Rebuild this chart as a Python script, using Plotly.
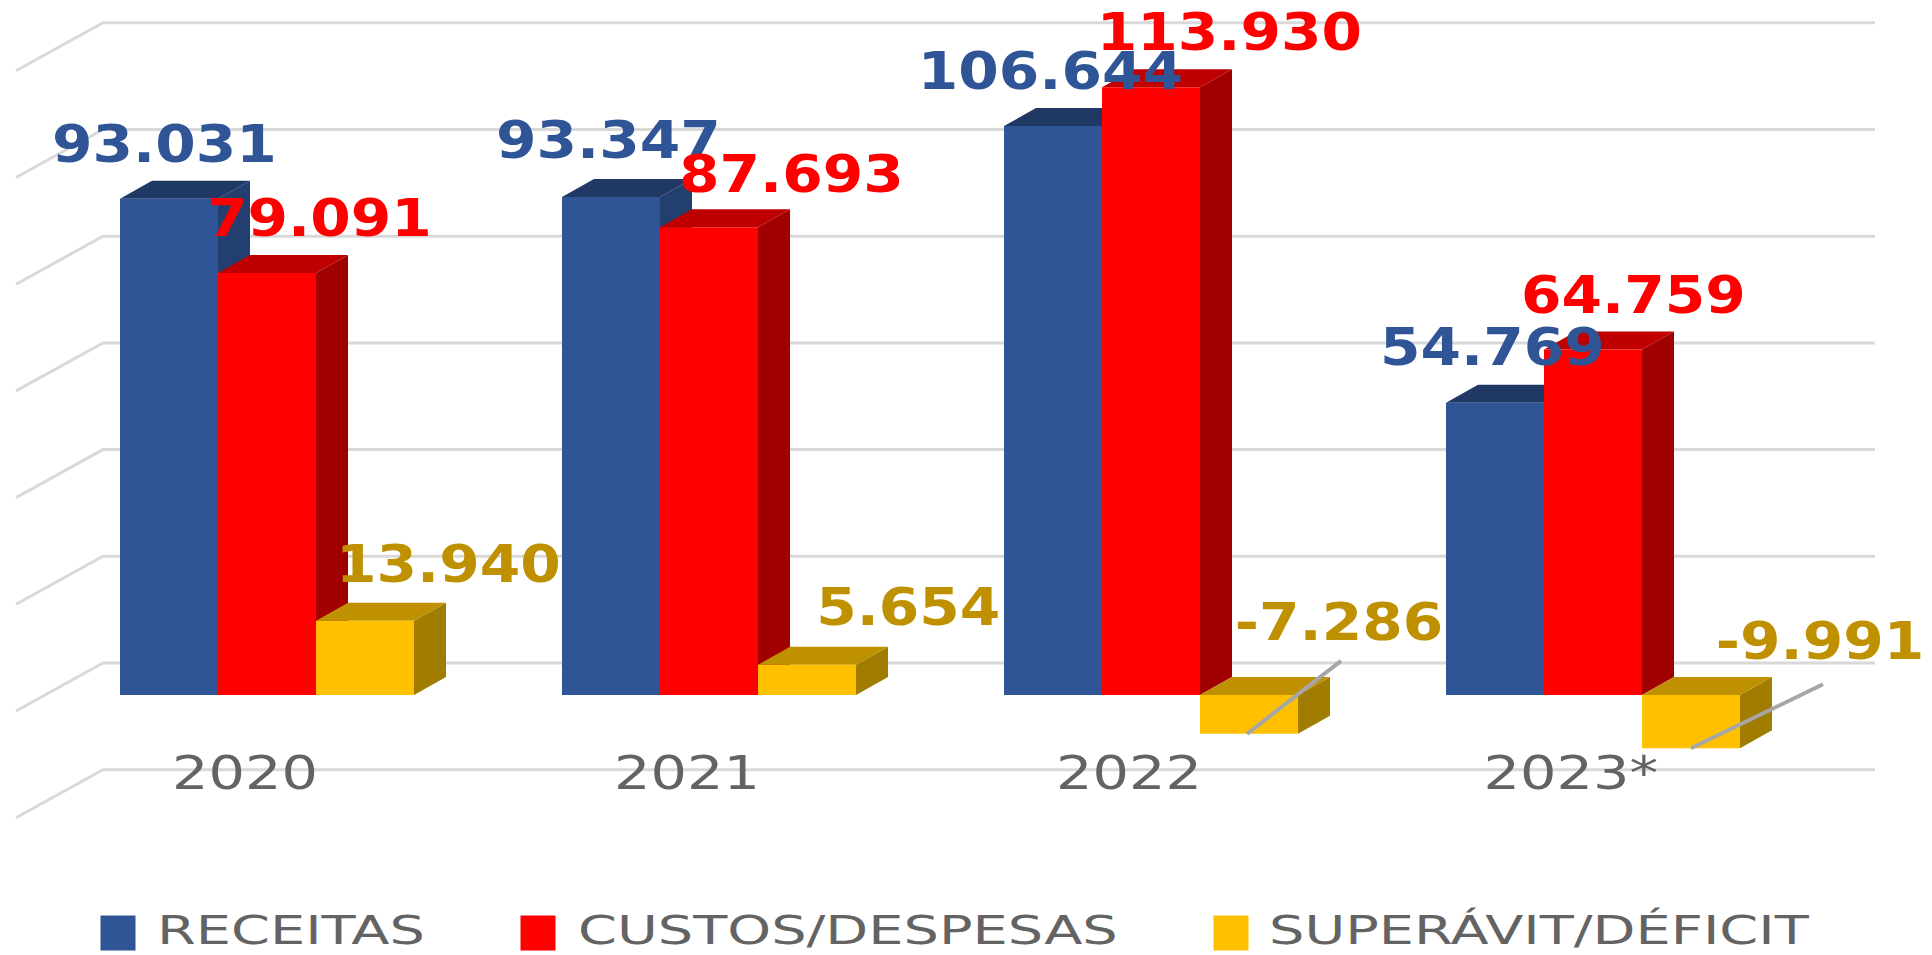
import plotly.graph_objects as go

categories = ["2020", "2021", "2022", "2023*"]
receitas = [93031, 93347, 106644, 54769]
custos = [79091, 87693, 113930, 64759]
saldo = [13940, 5654, -7286, -9991]
grid_values = [-20000, 0, 20000, 40000, 60000, 80000, 100000, 120000]

W, H = 1932, 955
PX_PER_CAT = 442.0
PX_PER_VAL = 0.005335
X0_PX, Y0_PX = 267.0, 695.0


def xd(px):
    return px / PX_PER_CAT


def yd(px):
    return px / PX_PER_VAL


BAR_W = xd(98)
DX, DY = xd(32), yd(18)
WALL_DY = yd(32)
FLOOR_DX, FLOOR_DY = xd(87), yd(48)
WALL_LEFT = (103 - X0_PX) / PX_PER_CAT
WALL_RIGHT = (1875 - X0_PX) / PX_PER_CAT

series = [
    dict(name="RECEITAS", vals=receitas, front="#2F5597", top="#203864", side="#223F70", text="#2F5597", k=-1,
         off=[(-4, -44), (-2, -46), (-2, -45), (-2, -45)]),
    dict(name="CUSTOS/DESPESAS", vals=custos, front="#FF0000", top="#BF0000", side="#A00000", text="#FF0000", k=0,
         off=[(43, -45), (67, -43), (64, -45), (33, -44)]),
    dict(name="SUPERÁVIT/DÉFICIT", vals=saldo, front="#FFC000", top="#BF9000", side="#A07C00", text="#BF9000", k=1,
         off=[(68, -46), (82, -47), (73, -59), (105, -44)]),
]

fig = go.Figure()

gx, gy = [], []
for v in grid_values:
    base = v + WALL_DY
    gx += [WALL_LEFT - FLOOR_DX, WALL_LEFT, WALL_RIGHT, None]
    gy += [base - FLOOR_DY, base, base, None]
fig.add_trace(go.Scatter(x=gx, y=gy, mode="lines", line=dict(color="#D9D9D9", width=3),
                         hoverinfo="skip", showlegend=False, zorder=0))

z = 1
annotations = []
for s in series:
    tx, ty, sx, sy = [], [], [], []
    centers = []
    for i, v in enumerate(s["vals"]):
        c = i + s["k"] * BAR_W
        centers.append(c)
        x0, x1 = c - BAR_W / 2, c + BAR_W / 2
        hi, lo = max(v, 0), min(v, 0)
        tx += [x0, x0 + DX, x1 + DX, x1, x0, None]
        ty += [hi, hi + DY, hi + DY, hi, hi, None]
        sx += [x1, x1 + DX, x1 + DX, x1, x1, None]
        sy += [hi, hi + DY, lo + DY, lo, hi, None]
        annotations.append(dict(
            x=c, y=hi, xref="x", yref="y", text=f"{v:,}".replace(",", "."), showarrow=False,
            xshift=s["off"][i][0] * 1.232, yshift=-s["off"][i][1] * 1.232,
            font=dict(family="DejaVu Sans", size=52, color=s["text"], weight="bold"),
            xanchor="center", yanchor="middle"))
    fig.add_trace(go.Scatter(x=sx, y=sy, mode="lines", fill="toself", fillcolor=s["side"],
                             line=dict(width=0, color=s["side"]), hoverinfo="skip", showlegend=False, zorder=z))
    fig.add_trace(go.Scatter(x=tx, y=ty, mode="lines", fill="toself", fillcolor=s["top"],
                             line=dict(width=0, color=s["top"]), hoverinfo="skip", showlegend=False, zorder=z))
    fig.add_trace(go.Bar(x=centers, y=s["vals"], width=BAR_W, marker=dict(color=s["front"], line=dict(width=0)),
                         name=s["name"], showlegend=False, zorder=z + 1))
    z += 2

yellow_centers = [i + BAR_W for i in range(4)]
leaders = [(2, (-2, 0), (92, -73)), (3, (0, 0), (132, -64))]
lx, ly = [], []
for i, a, b in leaders:
    v = saldo[i]
    lx += [yellow_centers[i] + xd(a[0]), yellow_centers[i] + xd(b[0]), None]
    ly += [v - yd(a[1]), v - yd(b[1]), None]
fig.add_trace(go.Scatter(x=lx, y=ly, mode="lines", line=dict(color="#A6A6A6", width=4),
                         hoverinfo="skip", showlegend=False, zorder=20))

legend_sq_px = [118, 538, 1231]
legend_txt_px = [155, 576, 1267]
LEG_SQ_Y_PX = 933
LEG_TXT_Y_PX = 930
for s, sq, t in zip(series, legend_sq_px, legend_txt_px):
    fig.add_trace(go.Scatter(x=[(sq - X0_PX) / PX_PER_CAT], y=[(Y0_PX - LEG_SQ_Y_PX) / PX_PER_VAL], mode="markers",
                             marker=dict(symbol="square", size=35, color=s["front"], line=dict(width=0)),
                             hoverinfo="skip", showlegend=False, zorder=20))
    annotations.append(dict(
        x=(t - X0_PX) / PX_PER_CAT, y=(Y0_PX - LEG_TXT_Y_PX) / PX_PER_VAL, xref="x", yref="y", text=s["name"],
        showarrow=False, xanchor="left", yanchor="middle",
        font=dict(family="DejaVu Sans", size=39, color="#636363")))

fig.update_layout(
    width=W, height=H, autosize=False, margin=dict(l=0, r=0, t=0, b=0, pad=0),
    paper_bgcolor="white", plot_bgcolor="white", showlegend=False, barmode="overlay",
    annotations=annotations,
    xaxis=dict(range=[-X0_PX / PX_PER_CAT, (W - X0_PX) / PX_PER_CAT], showgrid=False, zeroline=False,
               showline=False, ticks="", tickmode="array", tickvals=[i - 0.05 for i in range(4)],
               ticktext=categories, tickfont=dict(family="DejaVu Sans", size=47, color="#636363"),
               anchor="free", position=1 - 741 / H),
    yaxis=dict(range=[-(H - Y0_PX) / PX_PER_VAL, Y0_PX / PX_PER_VAL], visible=False,
               showgrid=False, zeroline=False),
)

# The reference's text is horizontally stretched; reproduce that on the real text elements.
POST = """
document.body.style.margin='0';document.documentElement.style.overflow='hidden';
function stretch(){
  document.querySelectorAll('.annotation-text, .xtick text').forEach(function(t){
    if(t.dataset.st) return; t.dataset.st='1';
    var fs=parseFloat(t.style.fontSize), L=t.getComputedTextLength();
    var legend=(fs===39), k=legend?1.43:(fs===47?1.22:1.12);
    var left=t.getBBox().x;
    t.setAttribute('textLength',L*k); t.setAttribute('lengthAdjust','spacingAndGlyphs');
    if(legend){ var d=left-t.getBBox().x; t.setAttribute('x',parseFloat(t.getAttribute('x')||0)+d); }
  });
}
stretch(); setTimeout(stretch,100);
"""
fig.write_html("out.html", post_script=POST, config=dict(displayModeBar=False))
